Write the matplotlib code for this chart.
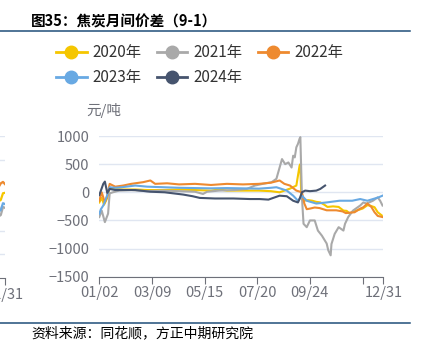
import matplotlib
matplotlib.use('Agg')
import matplotlib.pyplot as plt
from matplotlib.lines import Line2D

plt.rcParams['font.family'] = ['Noto Sans CJK SC', 'DejaVu Sans']

# day index along the year axis (0 = 01/02, 356 = 12/31)
tick_pos = [0, 66, 132, 198, 264, 330, 356]
tick_labels = ['01/02', '03/09', '05/15', '07/20', '09/24', '', '12/31']

yr2020_x = [0, 3, 6, 10, 13, 20, 30, 45, 60, 80, 100, 120, 140, 150, 160, 180, 200, 215, 226, 239, 247, 251, 252, 253,
            255, 262, 267, 272, 277, 282, 286, 293, 300, 306, 310, 314, 318, 322, 330, 336, 339, 345, 349, 354]
yr2020_y = [-180, -100, -220, -100, 80, 60, 50, 50, 40, 40, 50, 40, 30, 50, 30, 30, 30, 20, 0, 65, 120, 470, 500, 0,
            -150, -140, -150, -170, -180, -220, -260, -250, -260, -325, -330, -380, -340, -325, -290, -230, -235, -265, -355, -410]

yr2021_x = [0, 3, 7, 11, 13, 17, 25, 40, 60, 80, 100, 120, 130, 135, 150, 170, 185, 195, 205, 216, 222, 226, 229, 233,
            237, 241, 243, 245, 247, 249, 251, 252, 254, 256, 260, 264, 270, 274, 279, 285, 287, 290, 291, 295, 300, 306,
            308, 312, 318, 327, 331, 335, 343, 349, 352, 355]
yr2021_y = [-440, -325, -530, -380, -20, 0, 30, 40, 20, 30, 20, 10, -30, 10, 30, 40, 60, 120, 150, 180, 240, 440, 590, 500,
            530, 440, 650, 620, 800, 860, 950, 980, -90, -560, -620, -500, -500, -680, -770, -910, -1030, -1120, -920, -740, -620, -680,
            -560, -440, -325, -235, -180, -200, -150, -90, -150, -235]

yr2022_x = [0, 3, 7, 10, 13, 20, 30, 40, 55, 64, 70, 85, 100, 120, 140, 160, 180, 200, 215, 226, 232, 239, 247, 254,
            257, 260, 264, 270, 276, 285, 297, 305, 309, 315, 320, 327, 331, 336, 341, 345, 349, 355]
yr2022_y = [-150, 0, -180, -60, 150, 100, 120, 150, 180, 210, 150, 160, 140, 150, 130, 150, 140, 150, 170, 210, 150, 120, 30, 0,
            -200, -300, -290, -270, -280, -320, -320, -340, -370, -360, -355, -290, -265, -200, -260, -355, -420, -440]

yr2023_x = [0, 2, 5, 9, 13, 20, 28, 45, 60, 80, 100, 120, 140, 160, 180, 200, 215, 222, 235, 243, 249, 254, 260, 272,
            285, 301, 317, 327, 336, 343, 350, 355]
yr2023_y = [-380, -300, -235, -90, 90, 80, 90, 120, 100, 90, 80, 75, 70, 75, 70, 65, 80, 90, 30, -60, -150, -60, -150, -200,
            -180, -150, -150, -120, -150, -120, -90, -60]

yr2024_x = [0, 2, 5, 7, 10, 13, 20, 26, 45, 64, 82, 105, 117, 126, 145, 168, 189, 201, 212, 220, 226, 235, 243, 249,
            251, 254, 258, 264, 272, 277, 283]
yr2024_y = [-50, 30, 150, 190, -10, 60, 40, 40, 40, 10, 0, -40, -70, -100, -110, -110, -120, -120, -130, -90, -60, -70, -150, -180,
            -120, 0, 30, 20, 30, 60, 120]

# tail of the neighbouring chart that is cut off at the left edge
prev_x = [338, 344, 350, 356]
prev_2020 = [120, 150, 290, 300]
prev_2021 = [-200, -170, 0, -20]
prev_2022 = [420, 500, 530, 480]
prev_2023 = [-100, -60, 80, 60]

series = [
    ('2020年', yr2020_x, yr2020_y, '#f5c600'),
    ('2021年', yr2021_x, yr2021_y, '#a9a9a9'),
    ('2022年', yr2022_x, yr2022_y, '#ee8a2f'),
    ('2023年', yr2023_x, yr2023_y, '#68a9e3'),
    ('2024年', yr2024_x, yr2024_y, '#46546e'),
]

axis_grey = '#6e7079'
grid_col = '#e0e6f1'

fig = plt.figure(figsize=(4.28, 3.53), dpi=100)

# left: clipped neighbour chart
axp = fig.add_axes([-0.288, 0.2125, 0.3, 0.4023])
for vals, col in [(prev_2020, '#f5c600'), (prev_2021, '#a9a9a9'), (prev_2022, '#ee8a2f'), (prev_2023, '#68a9e3')]:
    axp.plot(prev_x, vals, color=col, lw=1.6)
axp.set_xlim(0, 356)
axp.set_ylim(-1500, 1500)
axp.set_yticks([-1000, -500, 0, 500, 1000, 1500])
axp.yaxis.grid(True, color=grid_col, lw=1)
axp.tick_params(axis='y', length=0, labelleft=False)
axp.set_xticks([356])
axp.set_xticklabels(['12/31'])
axp.tick_params(axis='x', colors=axis_grey, length=5, labelsize=10.5, pad=2)
for s in ['top', 'right', 'left']:
    axp.spines[s].set_visible(False)
axp.spines['bottom'].set_color(axis_grey)
axp.set_axisbelow(True)

# main chart
ax = fig.add_axes([0.232, 0.2161, 0.6636, 0.3986])
for name, xs, ys, col in series:
    ax.plot(xs, ys, color=col, lw=1.5, label=name)
ax.set_xlim(0, 356)
ax.set_ylim(-1500, 1000)
ax.set_yticks([-1500, -1000, -500, 0, 500, 1000])
ax.yaxis.grid(True, color=grid_col, lw=1)
ax.set_axisbelow(True)
ax.tick_params(axis='y', length=0, colors=axis_grey, labelsize=10.5, pad=7)
ax.set_xticks(tick_pos)
ax.set_xticklabels(tick_labels)
ax.tick_params(axis='x', colors=axis_grey, length=5, labelsize=10.5, pad=2)
for s in ['top', 'right', 'left']:
    ax.spines[s].set_visible(False)
ax.spines['bottom'].set_color(axis_grey)
ax.text(104 / 428, 1 - 111 / 353, '元/吨', transform=fig.transFigure, ha='center', va='center',
        color=axis_grey, fontsize=10.5)

# legend, filled column by column so rows read 2020 2021 2022 / 2023 2024
handles = {name: Line2D([0], [0], color=c, lw=2, marker='o', markersize=9, markeredgecolor=c)
           for name, _, _, c in series}
order = ['2020年', '2023年', '2021年', '2024年', '2022年']
fig.legend([handles[k] for k in order], order, loc='upper left', bbox_to_anchor=(56 / 428, 1 - 44 / 353), ncol=3,
           frameon=False, fontsize=11, handlelength=2.0, handletextpad=0.4, columnspacing=1.0, labelspacing=0.55,
           borderpad=0, borderaxespad=0, labelcolor='#333333')

# title, rules and source
fig.text(31 / 428, 1 - 21 / 353, '图35：焦炭月间价差（9-1）', fontsize=10.5, fontweight='bold', va='center', ha='left')
fig.add_artist(Line2D([0, 410 / 428], [1 - 31 / 353] * 2, color='#1f4e79', lw=1.1))
fig.add_artist(Line2D([0, 410 / 428], [1 - 323 / 353] * 2, color='#1f4e79', lw=1.1))
fig.text(31 / 428, 1 - 333 / 353, '资料来源：同花顺，方正中期研究院', fontsize=10, style='italic', va='center', ha='left')

fig.savefig('out.png', dpi=100)
